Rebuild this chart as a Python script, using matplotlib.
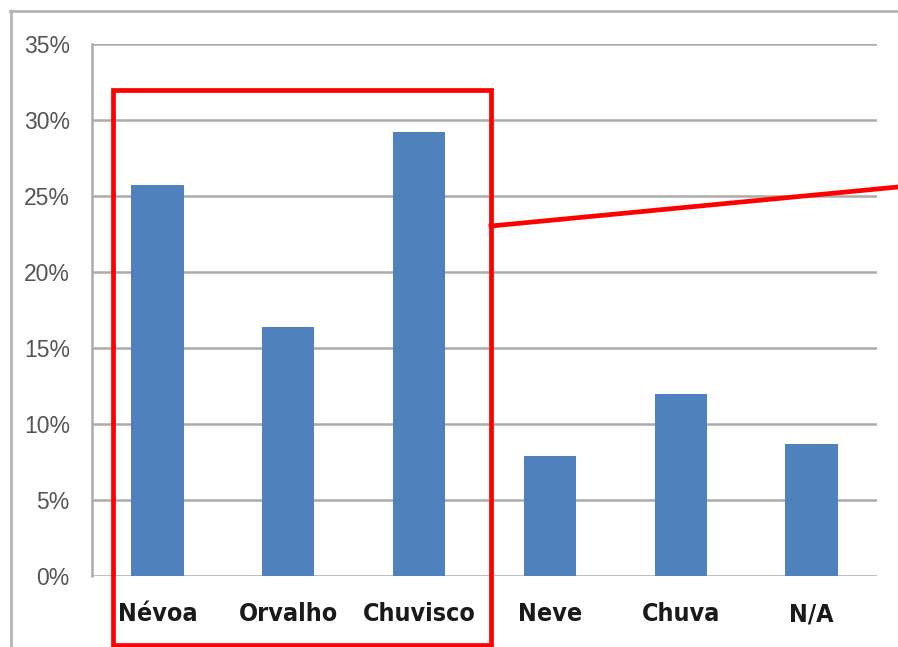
import matplotlib.pyplot as plt
from matplotlib import font_manager
from matplotlib.lines import Line2D
from matplotlib.patches import Rectangle
from matplotlib.ticker import PercentFormatter

categorias = ["Névoa", "Orvalho", "Chuvisco", "Neve", "Chuva", "N/A"]
valores = [25.7, 16.4, 29.2, 7.9, 12.0, 8.7]
ticks_y = [0, 5, 10, 15, 20, 25, 30, 35]

# rótulos do eixo x em fonte condensada, se houver
condensada = any(f.name == "DejaVu Sans" and f.stretch == "condensed"
                 for f in font_manager.fontManager.ttflist)

W, H = 898, 647
fig = plt.figure(figsize=(W / 100, H / 100), dpi=100)
ax = fig.add_axes([92 / W, (H - 576) / H, 785 / W, 532 / H])

x = range(len(categorias))
ax.bar(x, valores, width=0.4, color="#4F81BD", zorder=3)

ax.set_xlim(-0.5, len(categorias) - 0.5)
ax.set_ylim(0, 35)
ax.set_yticks(ticks_y)
ax.yaxis.set_major_formatter(PercentFormatter(decimals=0))
ax.grid(axis="y", color="#ABABAB", linewidth=1.8, zorder=0)
ax.set_xticks(list(x))
if condensada:
    ax.set_xticklabels(categorias, family="DejaVu Sans", fontstretch="condensed",
                       fontsize=18, fontweight="bold", color="#1a1a1a")
else:
    ax.set_xticklabels(categorias, family="Liberation Sans", fontsize=18,
                       fontweight="bold", color="#1a1a1a")
ax.tick_params(axis="x", length=0, pad=19)
ax.tick_params(axis="y", length=0, pad=16, labelsize=16.5, labelcolor="#555555")
for lbl in ax.get_yticklabels():
    lbl.set_family("Liberation Sans")

for s in ["top", "right", "bottom"]:
    ax.spines[s].set_visible(False)
ax.spines["left"].set_color("#ABABAB")
ax.spines["left"].set_linewidth(1.8)

# moldura cinzenta (topo e esquerda)
fig.add_artist(Line2D([10 / W, 1], [1 - 11 / H, 1 - 11 / H], transform=fig.transFigure, color="#B5B5B5", lw=2))
fig.add_artist(Line2D([11 / W, 11 / W], [0, 1 - 11 / H], transform=fig.transFigure, color="#B5B5B5", lw=2))

# destaque vermelho
fig.add_artist(Rectangle((113 / W, (H - 645) / H), (491 - 113) / W, (645 - 90) / H,
                         transform=fig.transFigure, fill=False, edgecolor="#FF0000", lw=3.4))
fig.add_artist(Line2D([491 / W, 1], [1 - 226 / H, 1 - 187 / H], transform=fig.transFigure,
                      color="#FF0000", lw=3.4))

fig.savefig("out.png", dpi=100)
